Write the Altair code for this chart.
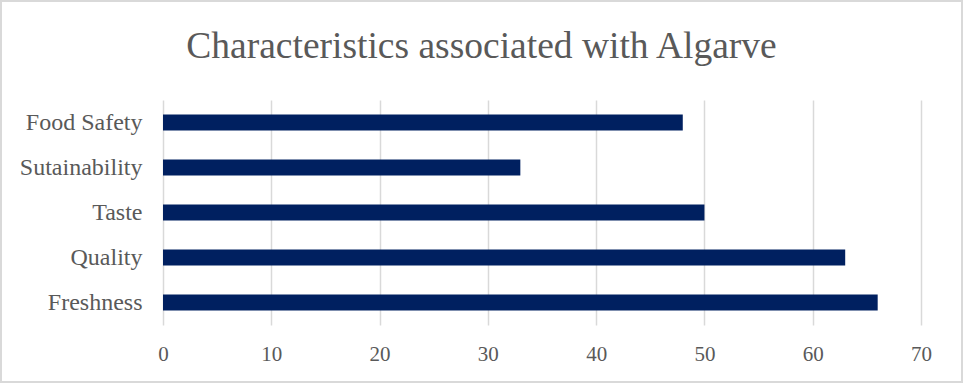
import altair as alt
import pandas as pd

categories = ["Food Safety", "Sutainability", "Taste", "Quality", "Freshness"]
values = [48, 33, 50, 63, 66]
x_ticks = [0, 10, 20, 30, 40, 50, 60, 70]
title_text = "Characteristics associated with Algarve"

df = pd.DataFrame({"category": categories, "value": values})

W, H = 758, 225
PL, PT = 163, 100
TOTAL_W, TOTAL_H = 963, 383

bars = alt.Chart(df).mark_bar(color="#002060").encode(
    x=alt.X("value:Q",
            scale=alt.Scale(domain=[0, 70], nice=False),
            axis=alt.Axis(values=x_ticks, title=None, grid=True, gridColor="#d9d9d9",
                          gridWidth=1.5, domain=False, ticks=False, labelFlush=False,
                          labelFont="Liberation Serif", labelFontSize=21,
                          labelColor="#595959", labelPadding=18)),
    y=alt.Y("category:N", sort=categories,
            scale=alt.Scale(paddingInner=0.64, paddingOuter=0.32),
            axis=alt.Axis(title=None, domain=False, ticks=False,
                          labelFont="Liberation Serif", labelFontSize=24,
                          labelColor="#595959", labelPadding=21)),
)

frame = alt.Chart(df).mark_rect(fill=None, stroke="#d9d9d9", strokeWidth=1.5).encode(
    x=alt.value(-PL + 1), x2=alt.value(TOTAL_W - PL - 1),
    y=alt.value(-PT + 1), y2=alt.value(TOTAL_H - PT - 1),
)

title = alt.Chart(pd.DataFrame({"t": [title_text]})).mark_text(
    font="Liberation Serif", fontSize=37.5, color="#595959",
    align="center", baseline="alphabetic",
).encode(
    text="t:N",
    x=alt.value(TOTAL_W / 2 - PL),
    y=alt.value(58 - PT),
)

chart = alt.layer(bars, frame, title).properties(
    width=W, height=H,
    padding={"left": PL, "top": PT, "right": TOTAL_W - PL - W, "bottom": TOTAL_H - PT - H},
    autosize=alt.AutoSizeParams(type="none"),
    background="white",
).configure_view(stroke=None)

chart.save("out.html", embed_options={"renderer": "svg", "actions": False})
